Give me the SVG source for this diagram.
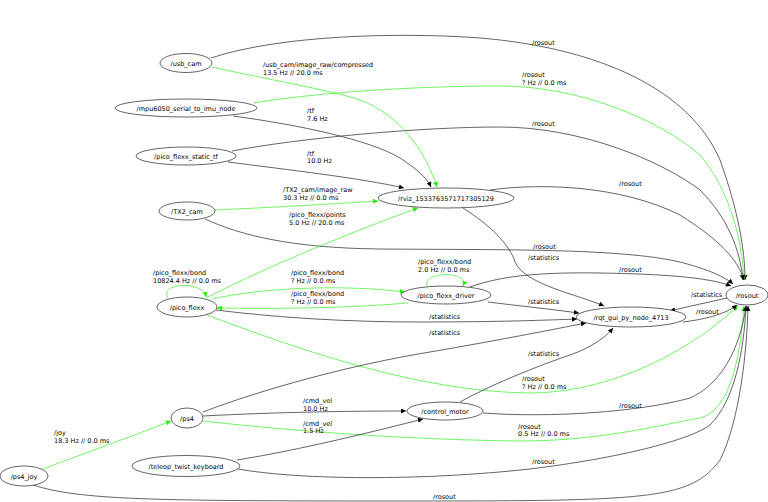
<svg xmlns="http://www.w3.org/2000/svg" width="768" height="502" viewBox="0 0 768 502">
<style>
text{font-family:"DejaVu Sans","Liberation Sans",sans-serif;font-size:6.5px;fill:#000}
.n ellipse{fill:#fff;stroke:#222;stroke-width:0.7}
.n text{text-anchor:middle}
.e path{fill:none;stroke:#222;stroke-width:0.7;marker-end:url(#ab)}
.e path.g{stroke:#33ee22;marker-end:url(#ag)}
</style>
<defs>
<marker id="ab" viewBox="0 0 10 10" refX="10" refY="5" markerUnits="userSpaceOnUse" markerWidth="6" markerHeight="5" orient="auto"><path d="M0,0L10,5L0,10z" fill="#000"/></marker>
<marker id="ag" viewBox="0 0 10 10" refX="10" refY="5" markerUnits="userSpaceOnUse" markerWidth="6" markerHeight="5" orient="auto"><path d="M0,0L10,5L0,10z" fill="#22ee00"/></marker>
</defs>
<rect width="768" height="502" fill="#fff"/>
<g id="connectors" class="e">
<path d="M211,58 C280,35 400,32 480,38 C600,48 690,90 720,160 C738,210 745,250 745,280"/>
<path class="g" d="M253,103 C320,92 420,86 500,86 C580,86 660,120 700,155 C730,190 742,240 744,280"/>
<path d="M232,151 C300,138 420,127 500,127 C580,127 660,160 700,190 C728,218 740,250 743,280"/>
<path d="M233,116 C300,125 370,140 400,158 C418,170 427,178 431,187"/>
<path class="g" d="M212,67 C270,80 330,90 360,100 C400,115 425,150 437,187"/>
<path d="M228,162 C290,170 360,178 404,188"/>
<path class="g" d="M215,210 C280,207 330,204 378,201"/>
<path d="M205,219 C240,235 290,248 380,249 C500,250 620,248 680,262 C710,270 725,277 733,284"/>
<path class="g" d="M206,298 C250,275 330,240 418,208"/>
<path class="g" d="M168,298 C158,283 203,280 206,297"/>
<path class="g" d="M212,299 C260,288 340,284 405,292"/>
<path class="g" d="M408,303 C350,308 280,309 217,308"/>
<path class="g" d="M428,288 C418,271 470,270 463,286"/>
<path d="M470,287 C500,276 540,272 600,273 C660,274 708,277 731,286"/>
<path d="M488,302 C520,306 550,309 579,313"/>
<path d="M216,310 C280,318 350,322 420,322 C500,322 550,320 577,319"/>
<path class="g" d="M207,315 C300,350 420,392 530,393 C600,393 680,360 738,306"/>
<path d="M463,208 C490,225 510,245 515,262 C525,285 580,295 604,306"/>
<path d="M490,190 C540,183 620,185 680,215 C720,240 738,260 744,280"/>
<path d="M727,298 C710,302 690,306 670,311"/>
<path d="M683,322 C700,320 725,315 737,305"/>
<path d="M203,412 C260,390 350,365 430,352 C500,340 550,330 586,323"/>
<path d="M203,416 C280,412 350,411 406,411"/>
<path class="g" d="M203,421 C300,432 420,440 520,441 C600,441 660,425 700,418 C730,410 740,360 744,306"/>
<path d="M237,460 C300,450 380,430 423,419"/>
<path d="M238,469 C300,480 420,481 530,469 C620,458 690,440 710,425 C735,400 744,350 746,306"/>
<path class="g" d="M43,469 C80,455 130,437 171,421"/>
<path d="M33,485 C80,500 150,501 400,501 C650,501 690,500 720,460 C740,420 747,350 748,306"/>
<path d="M460,402 C490,385 540,365 570,355 C590,348 605,338 613,328"/>
<path d="M483,413 C550,418 640,412 690,398 C720,385 740,350 746,306"/>
</g>
<g id="edge-labels">
<text x="263" y="67">/usb_cam/image_raw/compressed</text><text x="263" y="75">13.5 Hz // 20.0 ms</text>
<text x="307" y="113">/tf</text><text x="307" y="121">7.6 Hz</text>
<text x="307" y="156">/tf</text><text x="307" y="163">10.0 Hz</text>
<text x="532" y="45">/rosout</text>
<text x="522" y="77">/rosout</text><text x="522" y="84.5">? Hz // 0.0 ms</text>
<text x="532" y="126">/rosout</text>
<text x="283" y="192">/TX2_cam/image_raw</text><text x="283" y="199.5">30.3 Hz // 0.0 ms</text>
<text x="289" y="217">/pico_flexx/points</text><text x="289" y="224.5">5.0 Hz // 20.0 ms</text>
<text x="619" y="186">/rosout</text>
<text x="533" y="249">/rosout</text>
<text x="528" y="260">/statistics</text>
<text x="418" y="264">/pico_flexx/bond</text><text x="418" y="272">2.0 Hz // 0.0 ms</text>
<text x="619" y="271.5">/rosout</text>
<text x="153" y="275">/pico_flexx/bond</text><text x="153" y="283">10824.4 Hz // 0.0 ms</text>
<text x="291" y="275">/pico_flexx/bond</text><text x="291" y="283">? Hz // 0.0 ms</text>
<text x="291" y="295.5">/pico_flexx/bond</text><text x="291" y="303.5">? Hz // 0.0 ms</text>
<text x="528" y="304">/statistics</text>
<text x="429" y="318.5">/statistics</text>
<text x="429" y="335">/statistics</text>
<text x="528" y="356">/statistics</text>
<text x="522" y="381">/rosout</text><text x="522" y="388.5">? Hz // 0.0 ms</text>
<text x="691" y="297">/statistics</text>
<text x="696" y="314">/rosout</text>
<text x="619" y="407.5">/rosout</text>
<text x="518" y="428.5">/rosout</text><text x="518" y="436">0.5 Hz // 0.0 ms</text>
<text x="532" y="464">/rosout</text>
<text x="433" y="499">/rosout</text>
<text x="303" y="403">/cmd_vel</text><text x="303" y="410.5">10.0 Hz</text>
<text x="303" y="425.5">/cmd_vel</text><text x="303" y="433">1.5 Hz</text>
<text x="54" y="434.5">/joy</text><text x="54" y="443">18.3 Hz // 0.0 ms</text>
</g>
<g id="usb_cam" class="n"><ellipse cx="186" cy="63" rx="26" ry="9.5"/><text x="186" y="65.5">/usb_cam</text></g>
<g id="mpu6050_serial_to_imu_node" class="n"><ellipse cx="186" cy="108" rx="71" ry="9"/><text x="186" y="110.5">/mpu6050_serial_to_imu_node</text></g>
<g id="pico_flexx_static_tf" class="n"><ellipse cx="186" cy="156" rx="50" ry="9"/><text x="186" y="158.5">/pico_flexx_static_tf</text></g>
<g id="TX2_cam" class="n"><ellipse cx="187" cy="211" rx="28" ry="9"/><text x="187" y="213.5">/TX2_cam</text></g>
<g id="rviz" class="n"><ellipse cx="446" cy="198" rx="68" ry="10"/><text x="446" y="200.5">/rviz_1533763571717305129</text></g>
<g id="pico_flexx" class="n"><ellipse cx="187" cy="307" rx="30" ry="10"/><text x="187" y="309.5">/pico_flexx</text></g>
<g id="pico_flexx_driver" class="n"><ellipse cx="446" cy="295" rx="45" ry="9"/><text x="446" y="297.5">/pico_flexx_driver</text></g>
<g id="rqt_gui_py_node_4713" class="n"><ellipse cx="631" cy="317" rx="55" ry="10"/><text x="631" y="319.5">/rqt_gui_py_node_4713</text></g>
<g id="rosout" class="n"><ellipse cx="747" cy="295" rx="21" ry="10"/><text x="747" y="297.5">/rosout</text></g>
<g id="ps4" class="n"><ellipse cx="187" cy="418" rx="16" ry="10"/><text x="187" y="420.5">/ps4</text></g>
<g id="control_motor" class="n"><ellipse cx="445" cy="411" rx="38" ry="9"/><text x="445" y="413.5">/control_motor</text></g>
<g id="teleop_twist_keyboard" class="n"><ellipse cx="186" cy="466" rx="54" ry="10.5"/><text x="186" y="468.5">/teleop_twist_keyboard</text></g>
<g id="ps4_joy" class="n"><ellipse cx="24" cy="476" rx="24" ry="10"/><text x="24" y="478.5">/ps4_joy</text></g>
</svg>
